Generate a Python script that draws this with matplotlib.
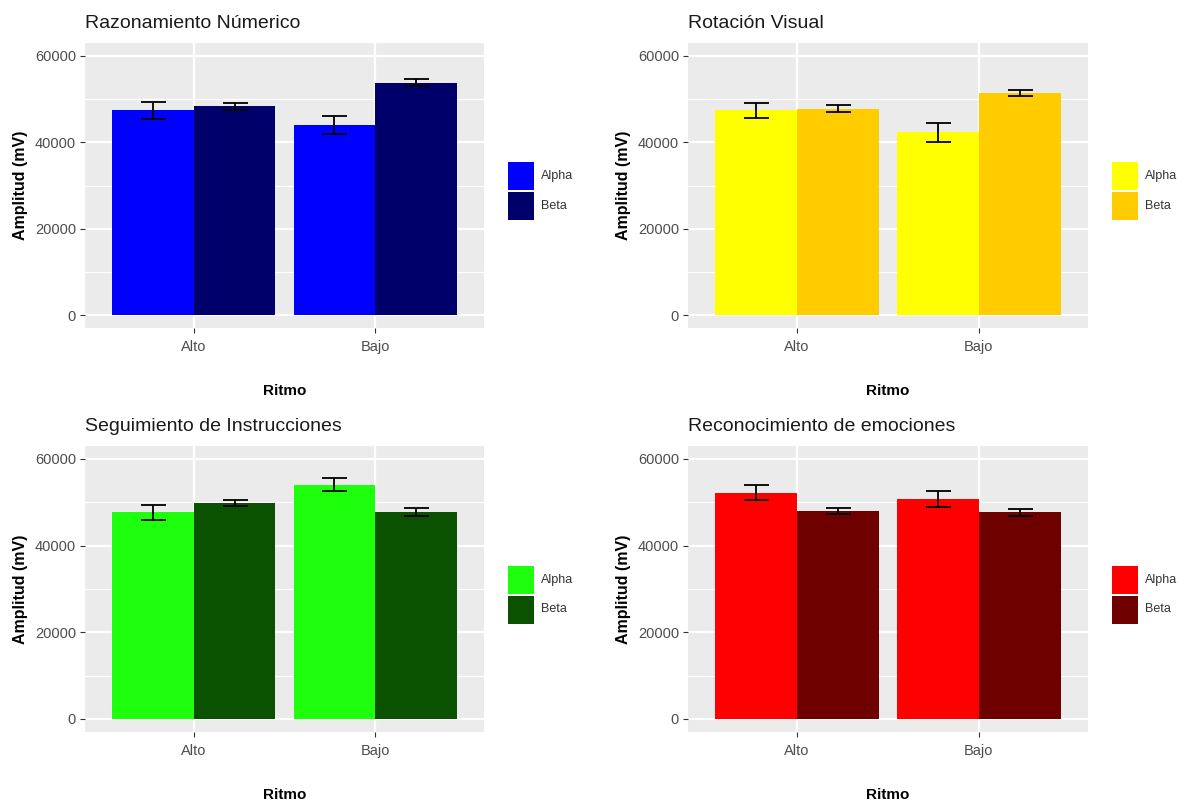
import matplotlib
matplotlib.use("Agg")
import matplotlib.pyplot as plt
import numpy as np
from matplotlib.patches import Rectangle

plt.rcParams['font.family'] = ['Liberation Sans', 'DejaVu Sans']

categories = ["Alto", "Bajo"]
groups = ["Alpha", "Beta"]
titles = ["Razonamiento Númerico", "Rotación Visual",
          "Seguimiento de Instrucciones", "Reconocimiento de emociones"]

# means [Alpha(Alto, Bajo)], [Beta(Alto, Bajo)]
rn_alpha = [47400, 44000]
rn_beta = [48300, 53800]
rn_alpha_err = [2000, 2000]
rn_beta_err = [800, 750]

rv_alpha = [47400, 42300]
rv_beta = [47800, 51400]
rv_alpha_err = [1800, 2150]
rv_beta_err = [850, 750]

si_alpha = [47700, 54100]
si_beta = [49850, 47700]
si_alpha_err = [1750, 1550]
si_beta_err = [750, 950]

re_alpha = [52200, 50700]
re_beta = [48000, 47700]
re_alpha_err = [1750, 1850]
re_beta_err = [800, 850]

colors = [("#0000FF", "#00006B"), ("#FFFF00", "#FFCC00"),
          ("#1EFF0E", "#0A5200"), ("#FF0000", "#6E0000")]

panels = [
    (rn_alpha, rn_beta, rn_alpha_err, rn_beta_err),
    (rv_alpha, rv_beta, rv_alpha_err, rv_beta_err),
    (si_alpha, si_beta, si_alpha_err, si_beta_err),
    (re_alpha, re_beta, re_alpha_err, re_beta_err),
]

W, H = 1193, 801
fig = plt.figure(figsize=(W / 100, H / 100), dpi=100)

# panel boxes in pixels (x0, y0_top, x1, y1_bottom)
boxes = [(85, 43, 484, 328), (688, 43, 1088, 328),
         (85, 446, 484, 732), (688, 446, 1088, 732)]

yticks = [0, 20000, 40000, 60000]
yminor = [10000, 30000, 50000]
bw = 0.45


def px_rect(x0, y0, w, h, color):
    fig.add_artist(Rectangle((x0 / W, 1 - (y0 + h) / H), w / W, h / H,
                             transform=fig.transFigure, color=color, lw=0))


for i, (box, data, cols, title) in enumerate(zip(boxes, panels, colors, titles)):
    x0, yt, x1, yb = box
    ax = fig.add_axes([x0 / W, 1 - yb / H, (x1 - x0) / W, (yb - yt) / H])
    ax.set_facecolor("#EBEBEB")
    ax.set_xlim(0.4, 2.6)
    ax.set_ylim(-3000, 63000)
    for s in ax.spines.values():
        s.set_visible(False)
    for y in yminor:
        ax.axhline(y, color="white", lw=0.8, zorder=0.5)
    for y in yticks:
        ax.axhline(y, color="white", lw=1.6, zorder=0.6)
    xs = np.arange(1, len(categories) + 1)
    for x in xs:
        ax.axvline(x, color="white", lw=1.6, zorder=0.6)
    a, b, ae, be = data
    ax.bar(xs - bw / 2, a, width=bw, color=cols[0], zorder=2, label=groups[0])
    ax.bar(xs + bw / 2, b, width=bw, color=cols[1], zorder=2, label=groups[1])
    ax.errorbar(xs - bw / 2, a, yerr=ae, fmt="none", ecolor="black",
                elinewidth=1.3, capsize=9, capthick=1.3, zorder=3)
    ax.errorbar(xs + bw / 2, b, yerr=be, fmt="none", ecolor="black",
                elinewidth=1.3, capsize=9, capthick=1.3, zorder=3)
    ax.set_xticks(xs)
    ax.set_xticklabels(categories)
    ax.set_yticks(yticks)
    ax.set_yticklabels([str(v) for v in yticks])
    ax.tick_params(axis="both", colors="#333333", length=3.5, width=0.8,
                   labelsize=10.5, labelcolor="#4D4D4D", pad=3)
    ax.tick_params(axis="x", pad=5)
    ax.set_title(title, loc="left", fontsize=14, color="#1A1A1A", pad=11)
    ax.set_ylabel("Amplitud (mV)", fontsize=11.5, fontweight="bold", labelpad=5)
    ax.set_xlabel("Ritmo", fontsize=11, fontweight="bold", labelpad=22)
    # legend drawn as keys beside the panel
    cy = (yt + yb) / 2 + 5.5
    kx = x1 + 24
    for k, (g, c) in enumerate(zip(groups, cols)):
        ky = cy - 29 + k * 30
        px_rect(kx, ky, 26, 28, c)
        fig.text((kx + 33) / W, 1 - (ky + 14) / H, g, fontsize=9,
                 color="#333333", va="center", ha="left")

fig.savefig("out.png", dpi=100, facecolor="white")
